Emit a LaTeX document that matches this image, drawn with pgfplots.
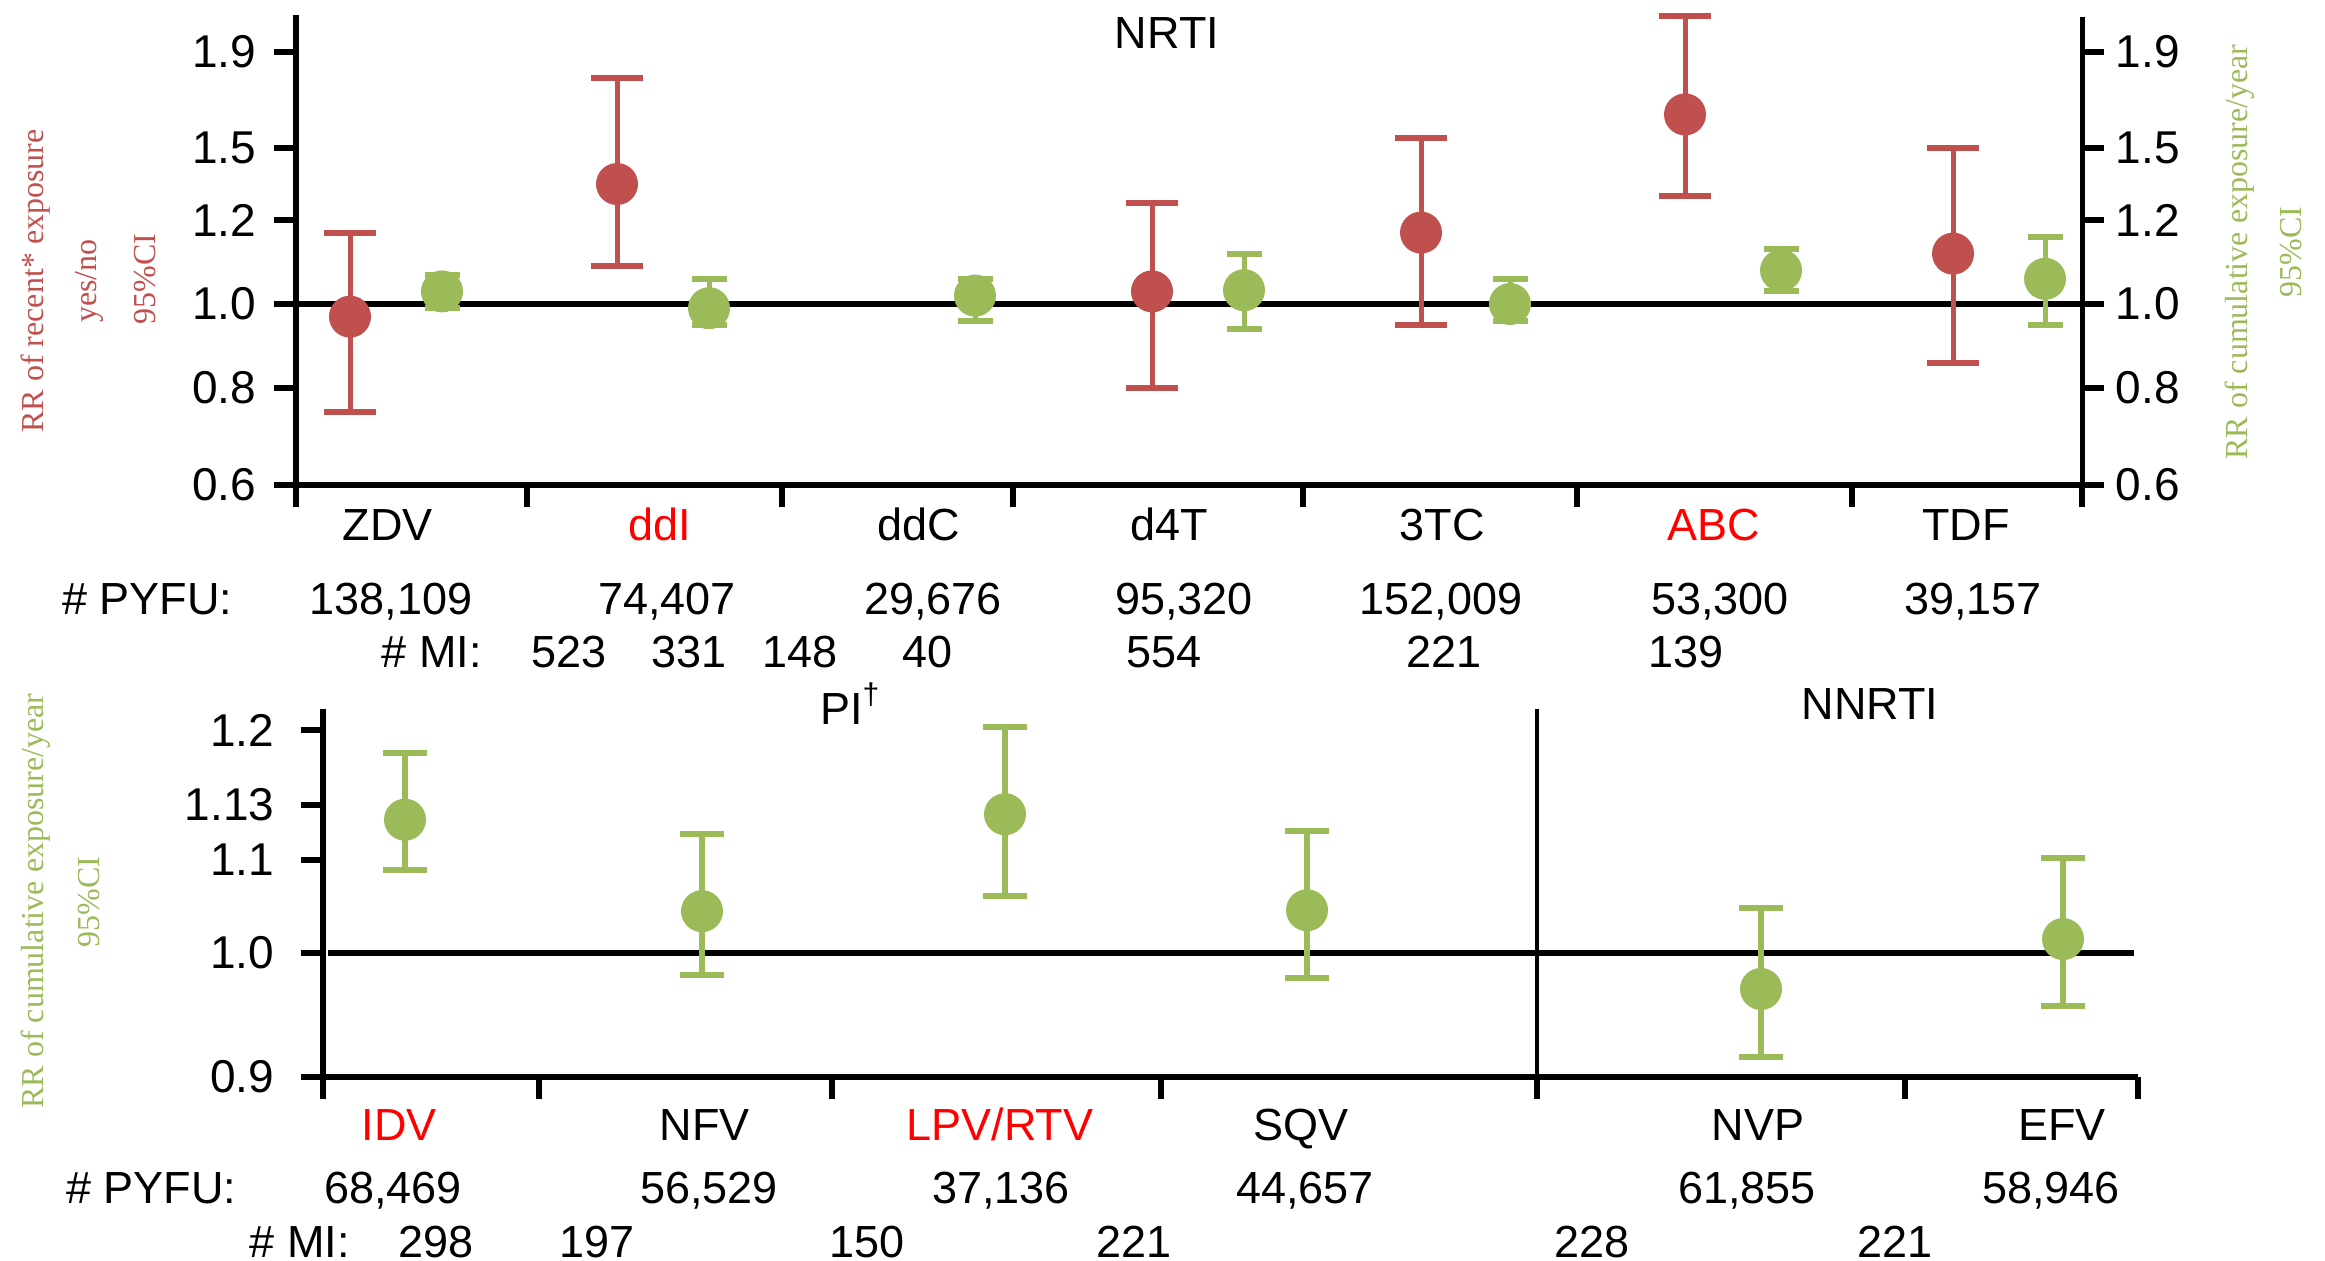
\documentclass[border=0pt]{standalone}
\usepackage{pgfplots}
\pgfplotsset{compat=1.18}
\usepackage{pgfplotstable}
\usepackage{fontspec}
\setmainfont{Liberation Sans}
\newfontfamily\seriffont{Liberation Serif}
\definecolor{rrred}{HTML}{C0504D}
\definecolor{rrgreen}{HTML}{9BBB59}
\definecolor{labred}{HTML}{FF0000}

% top panel: x position (px), RR, lower CI, upper CI
\pgfplotstableread{
x rr lo hi
350 0.97 0.75 1.17
617 1.35 1.09 1.79
1152 1.03 0.80 1.27
1421 1.17 0.95 1.54
1685 1.64 1.30 2.05
1953 1.12 0.86 1.50
}\topred
\pgfplotstableread{
x rr lo hi
442 1.03 0.99 1.07
709 0.99 0.95 1.06
975 1.02 0.96 1.06
1244 1.033 0.94 1.12
1510 1.00 0.96 1.06
1781 1.08 1.03 1.13
2045 1.06 0.95 1.16
}\topgreen
% bottom panel
\pgfplotstableread{
x rr lo hi
405 1.122 1.089 1.179
702 1.045 0.982 1.114
1005 1.125 1.061 1.203
1307 1.046 0.980 1.116
1761 0.971 0.916 1.048
2063 1.015 0.957 1.101
}\botgreen

\pgfplotsset{
  panel/.style={
    x=0.2pt, y=0.2pt,
    tick align=outside, major tick length=4.4pt,
    tick style={line width=1.1pt, black},
    axis line style={-, line width=1.35pt, black},
    ticklabel style={font=\fontsize{9.2}{10}\selectfont},
    /pgf/number format/assume math mode=true,
    clip=false,
  },
}

\begin{document}
\begin{tikzpicture}
\useasboundingbox (0,0) rectangle (465pt,-252pt);

% ---------------- top panel (NRTI) ----------------
\begin{axis}[panel,
  at={(59.2pt,-97pt)}, anchor=south west,
  xmin=296, xmax=2082, ymin=0, ymax=470,
  axis x line*=bottom, axis y line*=left,
  xtick={296,527,782,1013,1303,1577,1852,2082}, xticklabels={},
  ytick={0,97,181,265,337,433}, yticklabels={0.6,0.8,1.0,1.2,1.5,1.9},
  declare function={posA(\x)=485*(min(\x,0.8)-0.6)+420*(max(min(\x,1.2),0.8)-0.8)+240*(max(\x,1.2)-1.2);},
]
\addplot[black, line width=1.25pt] coordinates {(296,181) (2082,181)};
% red series
\addplot[rrred, only marks, mark=*, mark size=4pt,
  error bars/.cd, y dir=both, y explicit, error mark=none,
  error bar style={line width=1pt, rrred}]
  table[x=x, y expr={posA(\thisrow{rr})},
        y error plus expr={posA(\thisrow{hi})-posA(\thisrow{rr})},
        y error minus expr={posA(\thisrow{rr})-posA(\thisrow{lo})}] {\topred};
\addplot[rrred, only marks, mark=-, mark size=5.2pt, mark options={line width=1.2pt}]
  table[x=x, y expr={posA(\thisrow{hi})}] {\topred};
\addplot[rrred, only marks, mark=-, mark size=5.2pt, mark options={line width=1.2pt}]
  table[x=x, y expr={posA(\thisrow{lo})}] {\topred};
% green series
\addplot[rrgreen, only marks, mark=*, mark size=4pt,
  error bars/.cd, y dir=both, y explicit, error mark=none,
  error bar style={line width=1pt, rrgreen}]
  table[x=x, y expr={posA(\thisrow{rr})},
        y error plus expr={posA(\thisrow{hi})-posA(\thisrow{rr})},
        y error minus expr={posA(\thisrow{rr})-posA(\thisrow{lo})}] {\topgreen};
\addplot[rrgreen, only marks, mark=-, mark size=3.5pt, mark options={line width=1.2pt}]
  table[x=x, y expr={posA(\thisrow{hi})}] {\topgreen};
\addplot[rrgreen, only marks, mark=-, mark size=3.5pt, mark options={line width=1.2pt}]
  table[x=x, y expr={posA(\thisrow{lo})}] {\topgreen};
\end{axis}

% right axis of top panel
\begin{axis}[panel,
  at={(59.2pt,-97pt)}, anchor=south west,
  xmin=296, xmax=2082, ymin=0, ymax=468,
  axis x line=none, axis y line*=right,
  axis line style={-, line width=1pt, black},
  ytick={0,97,181,265,337,433}, yticklabels={0.6,0.8,1.0,1.2,1.5,1.9},
  yticklabel style={xshift=-1.2pt},
]
\end{axis}

% ---------------- bottom panel (PI / NNRTI) ----------------
\begin{axis}[panel,
  at={(64.6pt,-215.4pt)}, anchor=south west,
  xmin=323, xmax=2138, ymin=0, ymax=368,
  axis x line*=bottom, axis y line*=left,
  xtick={323,539,832,1161,1537,1905,2138}, xticklabels={},
  ytick={0,124,217,272,347}, yticklabels={0.9,1.0,1.1,1.13,1.2},
  yticklabel style={xshift=-1.8pt},
  declare function={posB(\x)=1240*(min(\x,1.0)-0.9)+930*(max(min(\x,1.1),1.0)-1.0)+1833*(max(min(\x,1.13),1.1)-1.1)+1071*(max(\x,1.13)-1.13);},
]
\addplot[black, line width=1.25pt] coordinates {(328,124) (2134,124)};
\addplot[black, line width=0.9pt] coordinates {(1537,0) (1537,368)};
\addplot[rrgreen, only marks, mark=*, mark size=4pt,
  error bars/.cd, y dir=both, y explicit, error mark=none,
  error bar style={line width=1.1pt, rrgreen}]
  table[x=x, y expr={posB(\thisrow{rr})},
        y error plus expr={posB(\thisrow{hi})-posB(\thisrow{rr})},
        y error minus expr={posB(\thisrow{rr})-posB(\thisrow{lo})}] {\botgreen};
\addplot[rrgreen, only marks, mark=-, mark size=4.4pt, mark options={line width=1.2pt}]
  table[x=x, y expr={posB(\thisrow{hi})}] {\botgreen};
\addplot[rrgreen, only marks, mark=-, mark size=4.4pt, mark options={line width=1.2pt}]
  table[x=x, y expr={posB(\thisrow{lo})}] {\botgreen};
\end{axis}

% ---------------- texts ----------------
\begin{scope}[x=0.2pt, y=-0.2pt,
  every node/.style={inner sep=0pt, font=\fontsize{9}{10}\selectfont}]
\node[anchor=base] at (1167,48) {NRTI};
\node[anchor=base] at (388,540) {ZDV};
\node[anchor=base, text=labred] at (660,540) {ddI};
\node[anchor=base] at (919,540) {ddC};
\node[anchor=base] at (1169,540) {d4T};
\node[anchor=base] at (1442,540) {3TC};
\node[anchor=base, text=labred] at (1714,540) {ABC};
\node[anchor=base] at (1966,540) {TDF};
\node[anchor=base west] at (61,614) {\# PYFU:};
\node[anchor=base] at (391,614) {138,109};
\node[anchor=base] at (667,614) {74,407};
\node[anchor=base] at (933,614) {29,676};
\node[anchor=base] at (1184,614) {95,320};
\node[anchor=base] at (1441,614) {152,009};
\node[anchor=base] at (1720,614) {53,300};
\node[anchor=base] at (1973,614) {39,157};
\node[anchor=base] at (432,667) {\# MI:};
\node[anchor=base] at (569,667) {523};
\node[anchor=base] at (689,667) {331};
\node[anchor=base] at (800,667) {148};
\node[anchor=base] at (928,667) {40};
\node[anchor=base] at (1164,667) {554};
\node[anchor=base] at (1444,667) {221};
\node[anchor=base] at (1686,667) {139};

\node[anchor=base] at (851,724) {PI\textsuperscript{†}};
\node[anchor=base] at (1870,719) {NNRTI};
\node[anchor=base, text=labred] at (399,1140) {IDV};
\node[anchor=base] at (705,1140) {NFV};
\node[anchor=base, text=labred] at (1000,1140) {LPV/RTV};
\node[anchor=base] at (1301,1140) {SQV};
\node[anchor=base] at (1758,1140) {NVP};
\node[anchor=base] at (2062,1140) {EFV};
\node[anchor=base west] at (65,1203) {\# PYFU:};
\node[anchor=base] at (393,1203) {68,469};
\node[anchor=base] at (709,1203) {56,529};
\node[anchor=base] at (1001,1203) {37,136};
\node[anchor=base] at (1305,1203) {44,657};
\node[anchor=base] at (1747,1203) {61,855};
\node[anchor=base] at (2051,1203) {58,946};
\node[anchor=base] at (300,1257) {\# MI:};
\node[anchor=base] at (436,1257) {298};
\node[anchor=base] at (597,1257) {197};
\node[anchor=base] at (867,1257) {150};
\node[anchor=base] at (1134,1257) {221};
\node[anchor=base] at (1592,1257) {228};
\node[anchor=base] at (1895,1257) {221};

\begin{scope}[every node/.style={inner sep=0pt, rotate=90, anchor=base,
    font=\seriffont\fontsize{6.4}{7}\selectfont}]
\node[text=rrred] at (43,281) {RR of recent* exposure};
\node[text=rrred] at (97,281) {yes/no};
\node[text=rrred] at (155,279) {95\%CI};
\node[text=rrgreen] at (2247,252) {RR of cumulative exposure/year};
\node[text=rrgreen] at (2301,252) {95\%CI};
\node[text=rrgreen] at (43,901) {RR of cumulative exposure/year};
\node[text=rrgreen] at (100,902) {95\%CI};
\end{scope}
\end{scope}
\end{tikzpicture}
\end{document}
